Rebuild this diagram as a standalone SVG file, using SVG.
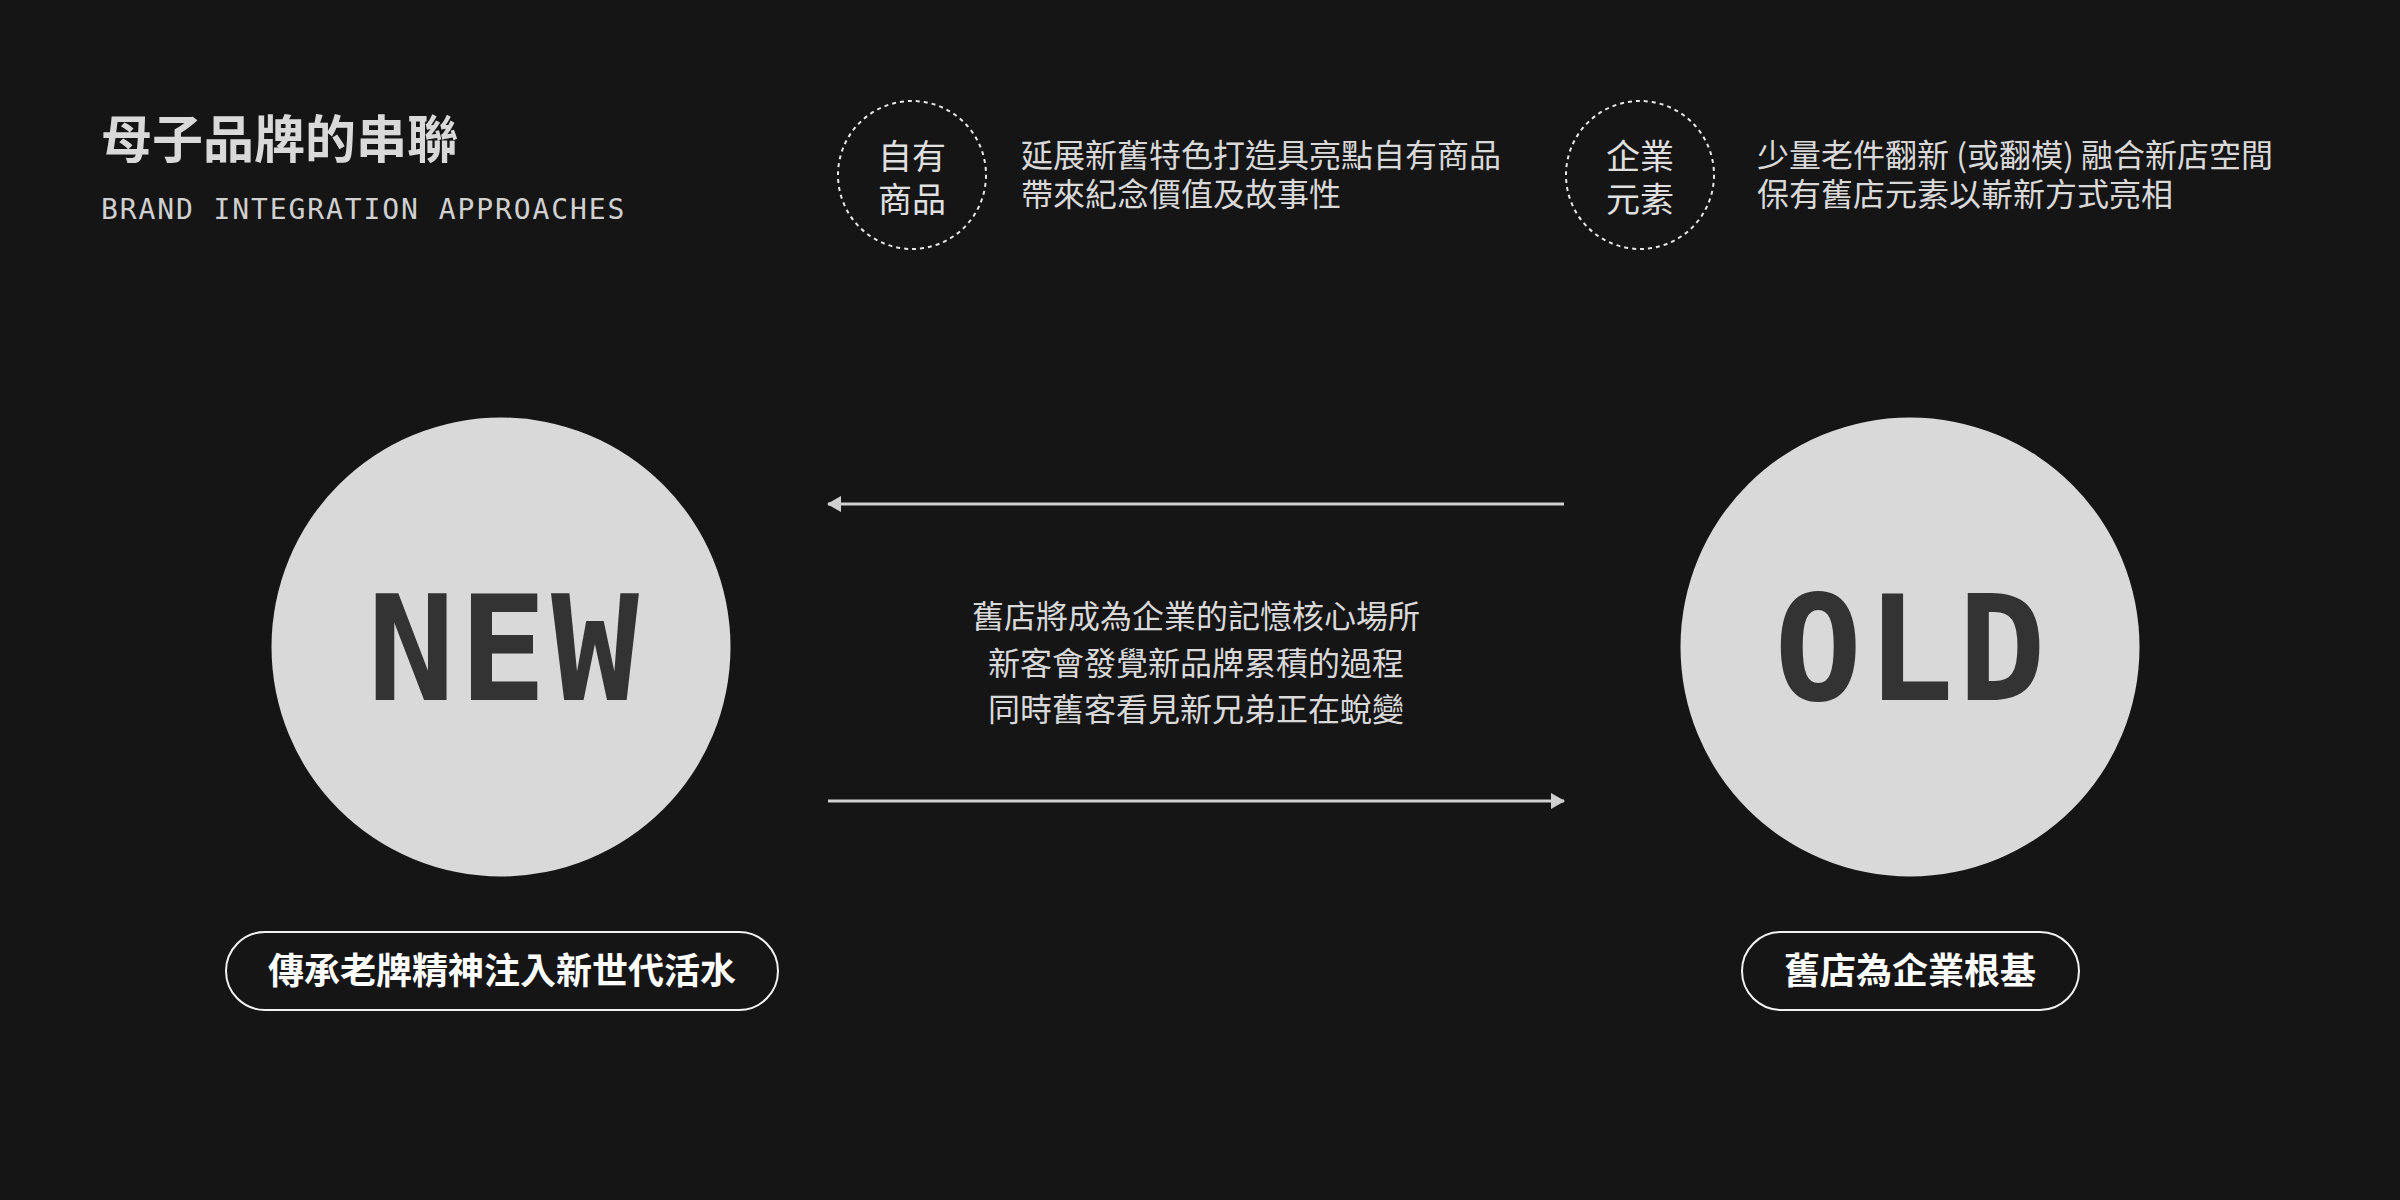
<svg xmlns="http://www.w3.org/2000/svg" width="2400" height="1200" viewBox="0 0 2400 1200">
  <style>
    .cjk { font-family: "Noto Sans CJK TC", "Noto Sans CJK SC", sans-serif; }
    .title { font-size: 51px; font-weight: 700; fill: #d9d9d9; }
    .sub { font-family: "DejaVu Sans Mono", "Liberation Mono", monospace; font-size: 28px; fill: #d0d0d0; letter-spacing: 1.9px; }
    .body { font-size: 32px; font-weight: 400; fill: #d9d9d9; }
    .badge-text { font-size: 34px; font-weight: 400; fill: #e0e0e0; text-anchor: middle; }
    .badge { fill: none; stroke: #e8e8e8; stroke-width: 2; stroke-dasharray: 4 4; }
    .big { fill: #d9d9d9; }
    .bigtext { font-family: "DejaVu Sans Mono", "Liberation Mono", monospace; font-size: 146px; font-weight: 700; fill: #333333; text-anchor: middle; letter-spacing: 4px; }
    .pill { fill: none; stroke: #f2f2f2; stroke-width: 2; }
    .pilltext { font-size: 36px; font-weight: 700; fill: #ffffff; text-anchor: middle; }
    .conn { stroke: #d0d0d0; stroke-width: 3; fill: none; }
  </style>
  <defs>
    <marker id="arrow" viewBox="0 0 14 16" refX="13" refY="8" markerWidth="14" markerHeight="16" markerUnits="userSpaceOnUse" orient="auto">
      <path d="M0,0 L14,8 L0,16 Z" fill="#d0d0d0"/>
    </marker>
  </defs>
  <rect x="0" y="0" width="2400" height="1200" fill="#151515"/>

  <g id="header">
    <text class="cjk title" x="101" y="158">母子品牌的串聯</text>
    <text class="sub" x="101" y="219">BRAND INTEGRATION APPROACHES</text>
  </g>

  <g id="badge-products">
    <circle class="badge" cx="912" cy="175" r="74"/>
    <text class="cjk badge-text"><tspan x="912" y="169">自有</tspan><tspan x="912" y="212">商品</tspan></text>
    <text class="cjk body"><tspan x="1021" y="167">延展新舊特色打造具亮點自有商品</tspan><tspan x="1021" y="206">帶來紀念價值及故事性</tspan></text>
  </g>

  <g id="badge-elements">
    <circle class="badge" cx="1640" cy="175" r="74"/>
    <text class="cjk badge-text"><tspan x="1640" y="169">企業</tspan><tspan x="1640" y="212">元素</tspan></text>
    <text class="cjk body"><tspan x="1757" y="167">少量老件翻新 (或翻模) 融合新店空間</tspan><tspan x="1757" y="206">保有舊店元素以嶄新方式亮相</tspan></text>
  </g>

  <g id="node-new">
    <circle class="big" cx="501" cy="647" r="229.5"/>
    <text class="bigtext" x="505" y="700">NEW</text>
  </g>

  <g id="node-old">
    <circle class="big" cx="1910" cy="647" r="229.5"/>
    <text class="bigtext" x="1912" y="700">OLD</text>
  </g>

  <g id="connectors">
    <line class="conn" x1="1564" y1="504" x2="828" y2="504" marker-end="url(#arrow)"/>
    <line class="conn" x1="828" y1="801" x2="1564" y2="801" marker-end="url(#arrow)"/>
  </g>

  <g id="center-text">
    <text class="cjk body" text-anchor="middle"><tspan x="1196" y="628">舊店將成為企業的記憶核心場所</tspan><tspan x="1196" y="675">新客會發覺新品牌累積的過程</tspan><tspan x="1196" y="721">同時舊客看見新兄弟正在蛻變</tspan></text>
  </g>

  <g id="label-new">
    <rect class="pill" x="226" y="932" width="552" height="78" rx="39" ry="39"/>
    <text class="cjk pilltext" x="502" y="984">傳承老牌精神注入新世代活水</text>
  </g>

  <g id="label-old">
    <rect class="pill" x="1742" y="932" width="337" height="78" rx="39" ry="39"/>
    <text class="cjk pilltext" x="1910" y="984">舊店為企業根基</text>
  </g>
</svg>
